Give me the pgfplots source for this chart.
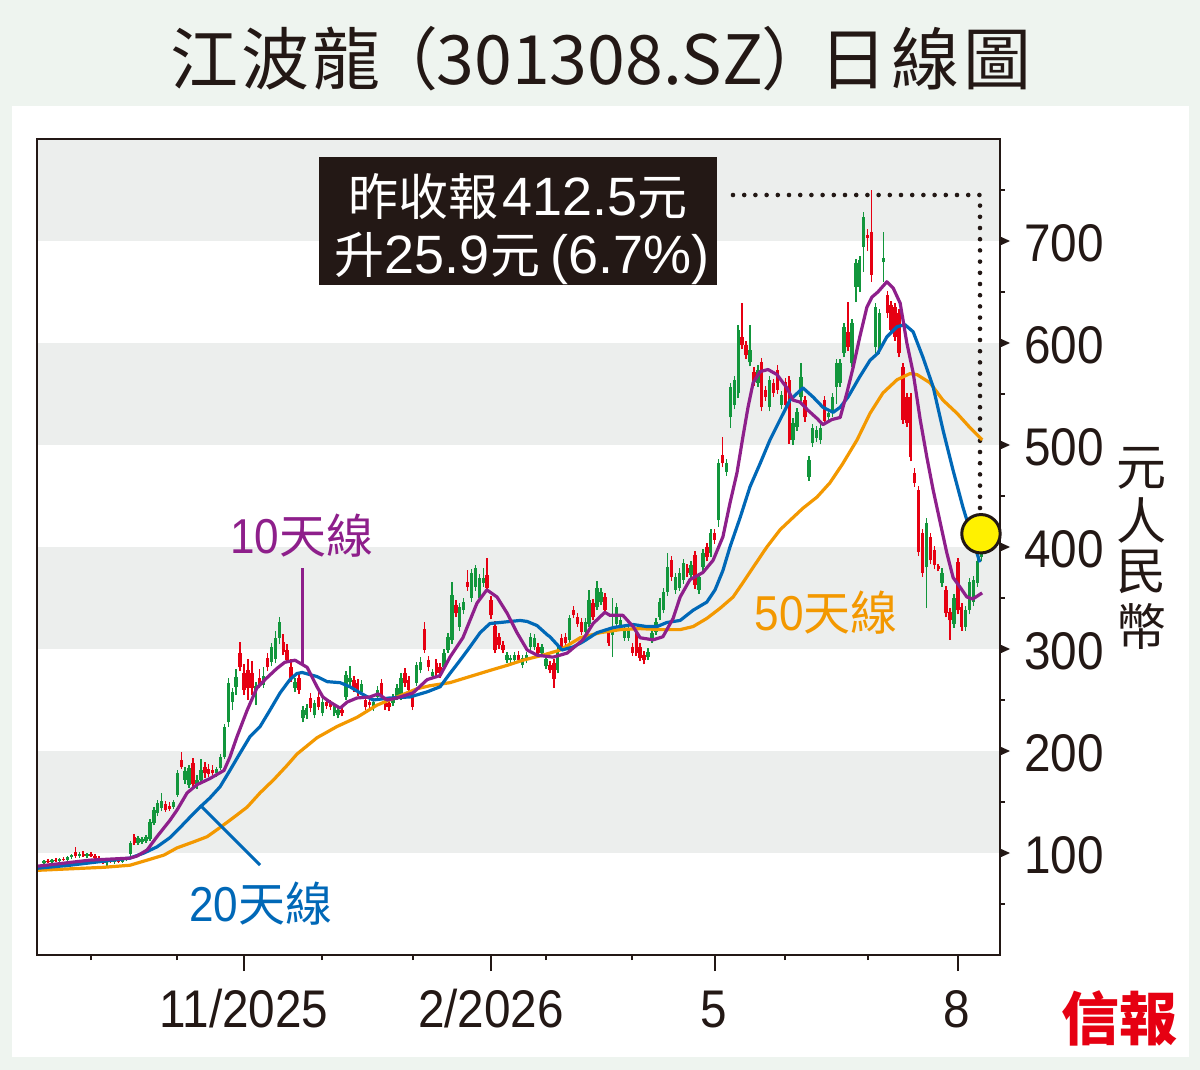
\documentclass[border=0pt]{standalone}
\usepackage{pgfplots}
\pgfplotsset{compat=1.18}
\usepackage{pgfplotstable}
\usepackage{fontspec}
\setmainfont{Liberation Sans}
\newfontfamily\cjk{Noto Sans CJK TC}
\newfontfamily\numc{Liberation Sans}[FakeStretch=0.9]
\definecolor{bgout}{HTML}{EEF4EF}
\definecolor{band}{HTML}{ECEEED}
\definecolor{ink}{HTML}{231815}
\definecolor{cgreen}{HTML}{12963C}
\definecolor{cred}{HTML}{E60012}
\definecolor{ma10}{HTML}{8E1F8B}
\definecolor{ma20}{HTML}{0068B7}
\definecolor{ma50}{HTML}{F39800}
\definecolor{cyellow}{HTML}{FFF100}

\pgfplotstableread{
k o h l c
0 90 93 89 92
2 91 94 90 93
4 92 95 91 94
6 93 97 92 96
7 96 99 94 98
9 97 101 95 99
11 97 100 95 99
16 90 93 87 92
18 91 94 89 93
20 91 94 90 93
21 93 96 92 95
22 99 112 97 110
24 110 117 108 115
25 111 116 109 114
26 112 118 110 116
27 114 133 112 130
28 129 145 127 142
29 139 152 136 149
30 144 159 141 151
33 145 152 143 150
34 157 181 155 178
36 172 184 168 180
37 167 186 164 183
39 167 176 163 172
40 172 192 170 181
44 178 184 175 182
45 183 197 181 194
46 194 226 192 224
47 228 272 224 267
48 248 262 240 258
49 263 280 255 273
54 254 268 245 264
56 265 282 262 274
58 287 306 283 302
59 290 318 286 311
60 311 331 305 326
64 262 272 258 268
66 232 244 228 240
67 235 246 231 242
69 235 250 232 247
71 237 252 234 248
74 237 246 234 243
75 235 244 232 240
77 253 278 250 275
78 268 283 264 272
81 258 270 255 266
84 242 252 239 248
85 253 264 250 260
89 247 256 244 253
90 253 266 250 262
91 253 276 250 272
95 267 287 264 284
96 279 292 276 287
99 274 280 271 277
102 282 300 279 296
103 299 316 296 312
104 309 366 305 353
106 322 345 318 341
107 338 350 334 346
109 350 378 346 375
110 361 382 357 379
111 350 374 346 370
112 365 379 361 370
118 289 297 286 294
119 289 294 285 291
120 289 297 285 294
122 284 294 281 291
123 289 297 286 294
124 302 316 299 312
125 302 315 299 311
127 296 305 292 302
128 283 293 280 290
131 279 302 276 299
134 309 333 306 330
138 317 330 314 326
139 325 358 322 348
141 341 367 338 360
142 346 360 343 356
145 314 350 292 322
146 325 345 322 341
147 322 332 319 328
148 311 323 308 319
149 311 322 308 319
154 292 301 289 297
155 309 320 306 316
156 317 330 314 326
157 331 350 328 346
158 338 360 335 356
159 356 394 352 380
161 358 375 354 371
162 360 379 357 375
163 368 388 364 384
165 373 386 370 382
167 358 375 354 371
168 380 398 376 394
170 394 418 390 414
172 426 486 420 482
174 474 486 470 482
175 527 561 517 557
176 539 568 535 564
177 551 618 546 613
180 581 618 577 593
182 561 578 557 574
185 537 568 533 564
188 539 553 535 549
191 505 526 500 522
192 518 536 514 532
193 547 580 543 567
195 469 489 465 485
196 502 521 498 517
197 507 519 503 515
198 505 521 501 517
200 527 535 523 531
201 531 551 527 547
202 557 584 540 580
203 561 584 557 580
204 590 620 586 616
206 580 624 576 620
207 655 682 640 678
208 655 685 650 681
209 694 728 670 724
212 596 639 590 635
213 593 633 589 629
214 679 709 660 683
225 380 428 340 424
229 365 379 361 375
232 325 354 321 350
235 322 342 318 338
236 338 370 334 366
237 346 372 342 368
238 365 390 361 386.6
239 390 418 386 412.5
}\up

\pgfplotstableread{
k o h l c
1 92 94 90 91
3 93 95 91 92
5 94 96 92 93
8 101 106 95 97
10 99 102 96 97
12 99 101 96 97
13 97 99 94 95
14 95 97 92 93
15 93 95 89 90
17 92 95 90 91
19 93 95 90 91
23 116 119 108 110
31 148 151 140 142
32 146 150 141 143
35 191 199 182 184
38 188 193 164 168
41 184 189 174 178
42 182 187 175 177
43 181 186 176 178
50 296 307 278 282
51 276 285 255 260
52 279 290 250 262
53 276 288 255 262
55 272 280 262 264
57 291 296 278 282
61 307 315 294 297
62 299 305 286 289
63 282 290 268 272
65 272 276 256 260
68 252 257 238 242
70 253 258 240 243
72 248 252 241 244
73 247 250 240 243
76 240 243 234 237
79 270 274 258 262
80 267 271 254 258
82 250 254 240 243
83 248 251 242 245
86 267 271 250 253
87 248 252 240 243
88 247 250 239 243
92 276 281 263 267
93 270 274 256 260
94 253 257 240 243
97 320 326 296 299
98 289 293 278 282
100 286 290 272 276
101 282 286 272 276
105 343 348 331 335
108 366 377 357 361
113 373 389 356 360
114 348 352 329 333
115 323 327 296 299
116 312 316 300 304
117 304 308 296 299
121 294 298 286 289
126 302 306 293 296
129 284 288 276 279
130 286 290 262 271
132 311 315 299 302
133 312 316 303 306
135 338 342 330 333
136 331 335 322 325
137 326 330 314 317
140 345 349 328 331
143 351 355 335 338
144 316 320 303 306
150 302 306 293 296
151 317 321 293 296
152 302 306 288 291
153 294 298 285 289
160 387 391 367 371
164 379 383 371 375
166 392 396 359 363
169 400 404 386 390
171 414 418 403 407
173 490 508 478 482
178 606 639 594 598
179 598 602 584 588
181 572 576 558 562
183 581 585 533 537
184 554 558 543 547
186 561 565 547 551
187 574 578 550 554
189 562 566 535 539
190 564 568 501 505
194 544 548 523 527
199 544 548 520 524
205 611 640 592 596
210 706 712 690 703
211 709 750 660 667
215 647 651 625 629
216 637 641 609 613
217 635 639 602 606
218 629 633 586 590
219 576 580 521 525
220 547 551 518 522
221 547 551 484 488
222 473 477 459 463
223 456 460 391 395
224 414 418 371 375
226 410 414 383 387
227 397 401 378 382
228 381 383 376 378
230 358 362 331 335
231 336 340 309 328
233 385 389 334 338
234 341 345 318 322
}\down

\begin{document}
\begin{tikzpicture}
\begin{scope}[x=0.5pt,y=-0.5pt]
\fill[bgout] (0,0) rectangle (1200,1070);
\fill[white] (12,106) rectangle (1189,1057);
\fill[band] (37,139) rectangle (1000,241);
\fill[band] (37,343) rectangle (1000,445);
\fill[band] (37,547) rectangle (1000,649);
\fill[band] (37,751) rectangle (1000,853);
\draw[ink, line width=2.3pt, line cap=round, dash pattern=on 0pt off 5.6pt] (733,195) -- (980,195) -- (980,512);
\end{scope}

\begin{axis}[at={(18.5pt,-477.5pt)}, anchor=south west, scale only axis,
  width=481.5pt, height=408pt,
  xmin=-1.785, xmax=243.75, ymin=0, ymax=800,
  clip=false, axis on top,
  axis line style={line width=1.2pt, ink},
  xtick={51,114,171,233}, xticklabels={},
  minor xtick={12,34,71,94,128,150,189,210},
  ytick=\empty,
  tick align=outside, xtick pos=left,
  major tick length=8pt, minor tick length=2.5pt,
  major tick style={line width=1pt, ink},
  minor tick style={line width=1pt, ink}]

\addplot[only marks, mark=*, mark size=9.6pt, mark options={fill=cyellow, draw=ink, line width=1.5pt}] coordinates {(238.9,413)};

\addplot[draw=none, mark=none, error bars/.cd, y dir=plus, y explicit, error mark=none,
  error bar style={draw=cgreen, line width=0.75pt}]
  table[x=k, y=l, y error plus expr=\thisrow{h}-\thisrow{l}] {\up};
\addplot[draw=none, mark=none, error bars/.cd, y dir=plus, y explicit, error mark=none,
  error bar style={draw=cgreen, line width=1.7pt}]
  table[x=k, y=o, y error plus expr=\thisrow{c}-\thisrow{o}] {\up};
\addplot[draw=none, mark=none, error bars/.cd, y dir=plus, y explicit, error mark=none,
  error bar style={draw=cred, line width=0.75pt}]
  table[x=k, y=l, y error plus expr=\thisrow{h}-\thisrow{l}] {\down};
\addplot[draw=none, mark=none, error bars/.cd, y dir=plus, y explicit, error mark=none,
  error bar style={draw=cred, line width=1.7pt}]
  table[x=k, y=c, y error plus expr=\thisrow{o}-\thisrow{c}] {\down};

\addplot[ma50, line width=1.6pt, line join=round] coordinates {
(-1.8,83) (15.3,86) (21.9,88) (26.3,93) (30.6,98) (33.9,105) (38.2,111) (41.6,116) (44.9,125) (48.4,135) (51.8,145) (55.1,159) (58.6,172) (62.0,186) (64.5,197) (69.6,213) (74.7,224) (79.8,233) (84.9,245) (90.0,253) (95.1,261) (98.4,264) (103.5,267) (108.6,273) (113.7,279) (118.1,284) (122.1,289) (127.2,294) (131.6,299) (136.7,311) (141.8,316) (146.9,319) (152.0,320) (157.1,319) (162.2,319) (165.5,322) (169.0,330) (172.4,340) (175.7,351) (178.2,365) (180.8,380) (184.3,400) (187.7,417) (191.0,429) (193.5,438) (197.1,449) (200.4,463) (203.7,482) (207.3,505) (210.6,531) (213.9,551) (217.5,564) (220.8,570) (222.6,569) (225.9,561) (229.2,544) (232.8,531) (236.1,517) (239.2,505)};

\addplot[ma20, line width=1.6pt, line join=round] coordinates {
(-1.8,85) (6.6,88) (15.3,92) (21.9,95) (25.5,100) (28.8,106) (32.1,115) (34.7,125) (37.2,135) (39.8,145) (42.3,154) (44.9,165) (47.4,181) (50.0,198) (52.5,214) (55.1,224) (57.6,240) (60.2,257) (62.7,270) (64.5,276) (65.8,277) (69.6,273) (72.2,268) (75.5,267) (78.0,263) (80.6,257) (83.9,250) (88.2,252) (93.3,253) (97.7,258) (101.0,263) (103.5,276) (106.1,289) (108.6,302) (111.2,316) (113.7,325) (116.3,326) (121.4,328) (123.2,327) (125.7,323) (128.3,314) (129.0,312) (132.1,299) (134.9,302) (137.4,307) (141.0,316) (145.1,321) (150.2,324) (153.7,322) (156.3,322) (158.8,326) (162.2,328) (165.5,338) (169.0,346) (171.1,358) (173.1,377) (174.9,400) (177.5,429) (180.0,459) (182.6,482) (185.1,505) (187.7,525) (190.2,544) (193.5,556) (196.1,547) (198.6,537) (201.2,532) (203.0,537) (205.0,547) (208.0,567) (210.6,583) (212.6,590) (214.9,606) (217.5,616) (219.5,618) (221.6,611) (224.1,586) (226.7,557) (229.2,515) (231.8,475) (234.3,439) (236.6,410) (238.6,385)};

\addplot[ma10, line width=1.6pt, line join=round] coordinates {
(-1.8,87) (11.7,93) (21.9,95) (23.7,97) (26.3,103) (28.8,116) (32.1,132) (33.9,142) (36.5,159) (39.0,167) (42.3,173) (45.9,181) (47.4,194) (49.2,214) (51.8,240) (54.3,262) (56.9,272) (59.4,281) (61.4,287) (64.0,289) (67.1,282) (69.6,263) (71.1,253) (72.9,248) (75.5,242) (77.3,248) (79.8,252) (83.1,253) (85.2,256) (87.5,250) (90.0,252) (94.1,257) (97.7,270) (101.0,274) (103.5,292) (106.8,311) (110.4,345) (112.9,358) (115.5,351) (118.1,335) (120.6,316) (123.2,299) (125.7,294) (129.8,292) (133.4,296) (137.4,309) (140.0,325) (143.0,336) (144.3,333) (147.6,333) (150.2,322) (152.0,311) (155.3,309) (157.8,312) (160.4,330) (162.2,351) (164.7,368) (168.0,375) (170.6,387) (173.1,410) (174.9,443) (176.7,473) (178.2,508) (179.5,537) (180.8,561) (182.6,572) (184.6,574) (186.9,569) (189.4,556) (191.0,544) (192.8,542) (194.8,534) (197.1,526) (198.6,520) (200.9,525) (203.0,527) (204.7,551) (206.3,576) (208.0,606) (209.8,635) (211.1,645) (212.6,650) (214.9,660) (216.5,654) (218.3,639) (220.0,600) (221.6,571) (223.4,525) (225.1,488) (226.7,456) (228.5,424) (230.2,394) (231.8,370) (233.5,361) (235.3,351) (236.8,349) (239.2,355)};
\end{axis}

\begin{scope}[x=0.5pt,y=-0.5pt]
% title
\node[anchor=base, text=ink, font=\cjk\fontsize{34}{40}\selectfont] at (601,85)
  {江\hspace{1.5pt}波\hspace{1.5pt}龍\hspace{-5pt}（\hspace{-1pt}301308.SZ\hspace{-1pt}）\hspace{-5pt}日\hspace{2pt}線\hspace{2pt}圖};
% info box
\fill[ink] (319,157) rectangle (717,285);
\node[anchor=base, text=white] at (518,215)
  {{\cjk\fontsize{25}{30}\selectfont 昨收報}\hspace{2pt}{\fontsize{27}{30}\selectfont 412.5}{\cjk\fontsize{25}{30}\selectfont 元}};
\node[anchor=base, text=white] at (522,273)
  {{\cjk\fontsize{25}{30}\selectfont 升}{\fontsize{27}{30}\selectfont 25.9}{\cjk\fontsize{25}{30}\selectfont 元}\hspace{5pt}{\fontsize{27}{30}\selectfont (6.7\%)}};
% right axis ticks
\foreach \y in {853,751,649,547,445,343,241}{\fill[ink] (999,\y-5) -- (1010,\y) -- (999,\y+5) -- cycle;}
\foreach \y in {904,802,700,598,496,394,292,190}{\draw[ink, line width=1pt] (1000,\y) -- (1005,\y);}
\foreach \v/\y in {100/873,200/771,300/669,400/567,500/465,600/363,700/261}
  {\node[anchor=base west, text=ink, font=\numc\fontsize{26.5}{30}\selectfont, inner sep=0pt] at (1024,\y) {\v};}
% x labels
\foreach \x/\t in {244/11\slash 2025,491/2\slash 2026,714/5,957/8}
  {\node[anchor=base, text=ink, font=\numc\fontsize{26.5}{30}\selectfont, inner sep=0pt] at (\x,1027) {\t};}
% unit
\node[text=ink, font=\cjk\fontsize{25}{25}\selectfont] at (1141,468) {元};
\node[text=ink, font=\cjk\fontsize{25}{25}\selectfont] at (1141,520) {人};
\node[text=ink, font=\cjk\fontsize{25}{25}\selectfont] at (1141,572) {民};
\node[text=ink, font=\cjk\fontsize{25}{25}\selectfont] at (1141,626) {幣};
% logo
\node[text=cred, font=\cjk\bfseries\fontsize{29}{30}\selectfont] at (1119,1018) {信報};
% MA labels
\draw[ma10, line width=1.5pt] (302,568) -- (302,665);
\draw[ma20, line width=1.5pt] (200,805) -- (260,865);
\node[anchor=base, text=ma10] at (302,553) {{\numc\fontsize{24.5}{28}\selectfont 10}{\cjk\fontsize{23.5}{28}\selectfont 天線}};
\node[anchor=base, text=ma20] at (261,921) {{\numc\fontsize{24.5}{28}\selectfont 20}{\cjk\fontsize{23.5}{28}\selectfont 天線}};
\node[anchor=base, text=ma50] at (826,630) {{\numc\fontsize{24.5}{28}\selectfont 50}{\cjk\fontsize{23.5}{28}\selectfont 天線}};
\end{scope}
\end{tikzpicture}
\end{document}
